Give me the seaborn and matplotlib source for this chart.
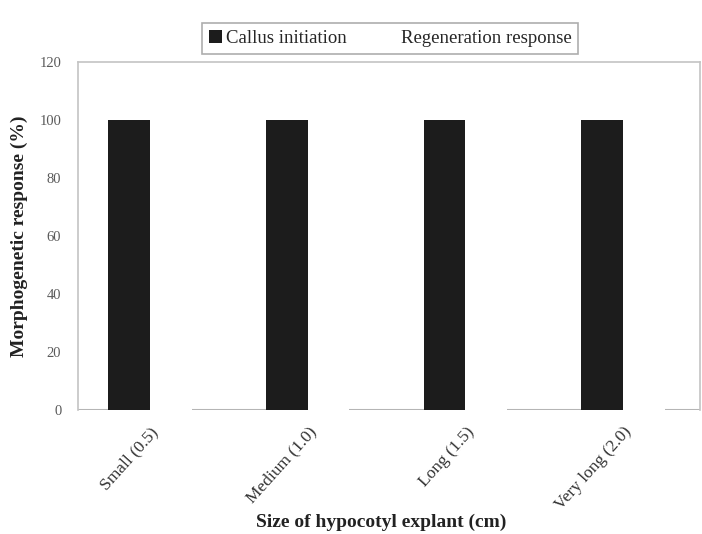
import pandas as pd
import matplotlib
matplotlib.use("Agg")
import matplotlib.pyplot as plt
import seaborn as sns

# ── data ──
sizes = ["Small (0.5)", "Medium (1.0)", "Long (1.5)", "Very long (2.0)"]
callus = [100, 100, 100, 100]
regeneration = [20, 20, 20, 25]
series = ["Callus initiation", "Regeneration response"]

df = pd.DataFrame({
    "Size": sizes * 2,
    "Response": callus + regeneration,
    "Series": [series[0]] * len(sizes) + [series[1]] * len(sizes),
})

sns.set_theme(style="white")
plt.rcParams["font.family"] = ["Liberation Serif", "DejaVu Serif"]

fig = plt.figure(figsize=(7.02, 5.34), dpi=100)
ax = fig.add_axes([0.111, 0.232, 0.886, 0.652])

# baseline drawn under the bars so the white bars break it like the original
ax.axhline(0, color="#b5b5b5", lw=2.2, zorder=0.5)

sns.barplot(data=df, x="Size", y="Response", hue="Series",
            palette=["#1c1c1c", "#ffffff"], width=0.53,
            edgecolor="none", ax=ax, zorder=2)

ax.set_ylim(0, 120)
ax.set_xlim(-0.457, 3.488)
ax.set_yticks(range(0, 121, 20))
ax.tick_params(axis="y", labelsize=10.5, labelcolor="#5a5a5a", length=0, pad=12)
ax.tick_params(axis="x", labelsize=12.5, labelcolor="#333333", length=0, pad=10)
plt.setp(ax.get_xticklabels(), rotation=48, ha="right", rotation_mode="anchor")

for side in ["top", "right", "left"]:
    ax.spines[side].set_color("#c4c4c4")
    ax.spines[side].set_linewidth(1.2)
ax.spines["bottom"].set_visible(False)

ax.set_ylabel("Morphogenetic response (%)", fontsize=14, fontweight="bold",
              color="#222222", labelpad=8)
ax.set_xlabel("Size of hypocotyl explant (cm)", fontsize=14, fontweight="bold",
              color="#222222", va="center")
ax.xaxis.set_label_coords(0.488, -0.322)

handles, labels = ax.get_legend_handles_labels()
ax.get_legend().remove()
leg = fig.legend(handles, labels, loc="center", bbox_to_anchor=(0.556, 0.928),
                 ncol=2, frameon=True, fontsize=13.5, handlelength=0.7,
                 handleheight=0.7, handletextpad=0.2, columnspacing=2.0,
                 borderpad=0.35, fancybox=False, edgecolor="#999999")
leg.get_frame().set_linewidth(1.2)

fig.savefig("out.png", dpi=100)
